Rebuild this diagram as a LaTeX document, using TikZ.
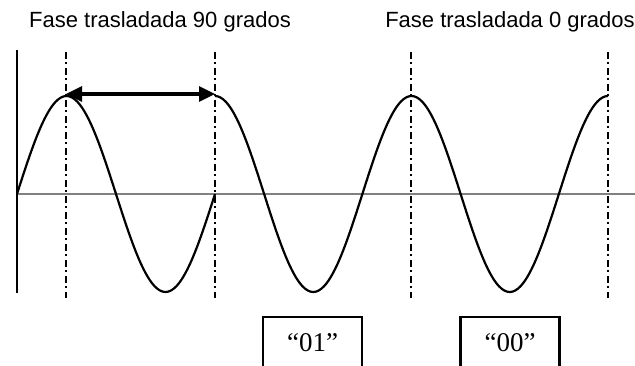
\documentclass[tikz,border=0pt]{standalone}
\usepackage{fontspec}
\setmainfont{Liberation Serif}
\setsansfont{Liberation Sans}
\usetikzlibrary{arrows.meta}

\begin{document}
\begin{tikzpicture}[
	x=1pt, y=-1pt,
	axis/.style={ line width=2.2pt },
	axisg/.style={ gray, line width=2.4pt },
	marker/.style={ line width=2.4pt, dash pattern=on 7pt off 3.5pt on 2pt off 3.5pt },
	wave/.style={ line width=2.2pt, smooth },
	bitbox/.style={ draw, line width=2.6pt, minimum width=99pt, minimum height=52pt, inner sep=0pt, font=\fontsize{27}{30}\selectfont },
	title/.style={ font=\sffamily\fontsize{22}{25}\selectfont, inner sep=0pt }
]
\useasboundingbox (0,0) rectangle (635,366);

% axes
\coordinate (o) at (17,194);
\coordinate (xend) at (635,194);
\coordinate (ytop) at (17,50);
\coordinate (ybot) at (17,293);
\draw[axisg] (o) -- (xend);
\draw[axis] (ybot) -- (ytop);

% phase markers
\foreach \x/\n in {66/m1,215/m2,411/m3,608/m4} {
	\coordinate (\n t) at (\x,52);
	\coordinate (\n b) at (\x,298);
	\draw[marker] (\n t) -- (\n b);
}

% signal, shifted by 90 degrees at m2
\draw[wave] plot[domain=0:360, samples=73] ({17+\x/360*198}, {194-98*sin(\x)});
\draw[wave] plot[domain=0:720, samples=145] ({215+\x/720*393}, {194-98*cos(\x)});

% shift arrow
\coordinate (a1) at (66,94);
\coordinate (a2) at (215,94);
\draw[{Triangle[length=16pt,width=15pt]}-{Triangle[length=16pt,width=15pt]}, line width=3.2pt] (a1) -- (a2);

% labels
\node (t90) at (160,22) [title] {Fase trasladada 90 grados};
\node (t0) at (510,22) [title] {Fase trasladada 0 grados};

% symbols
\node (b01) at (312.5,343) [bitbox] {“01”};
\node (b00) at (510,343) [bitbox] {“00”};

\end{tikzpicture}
\end{document}
